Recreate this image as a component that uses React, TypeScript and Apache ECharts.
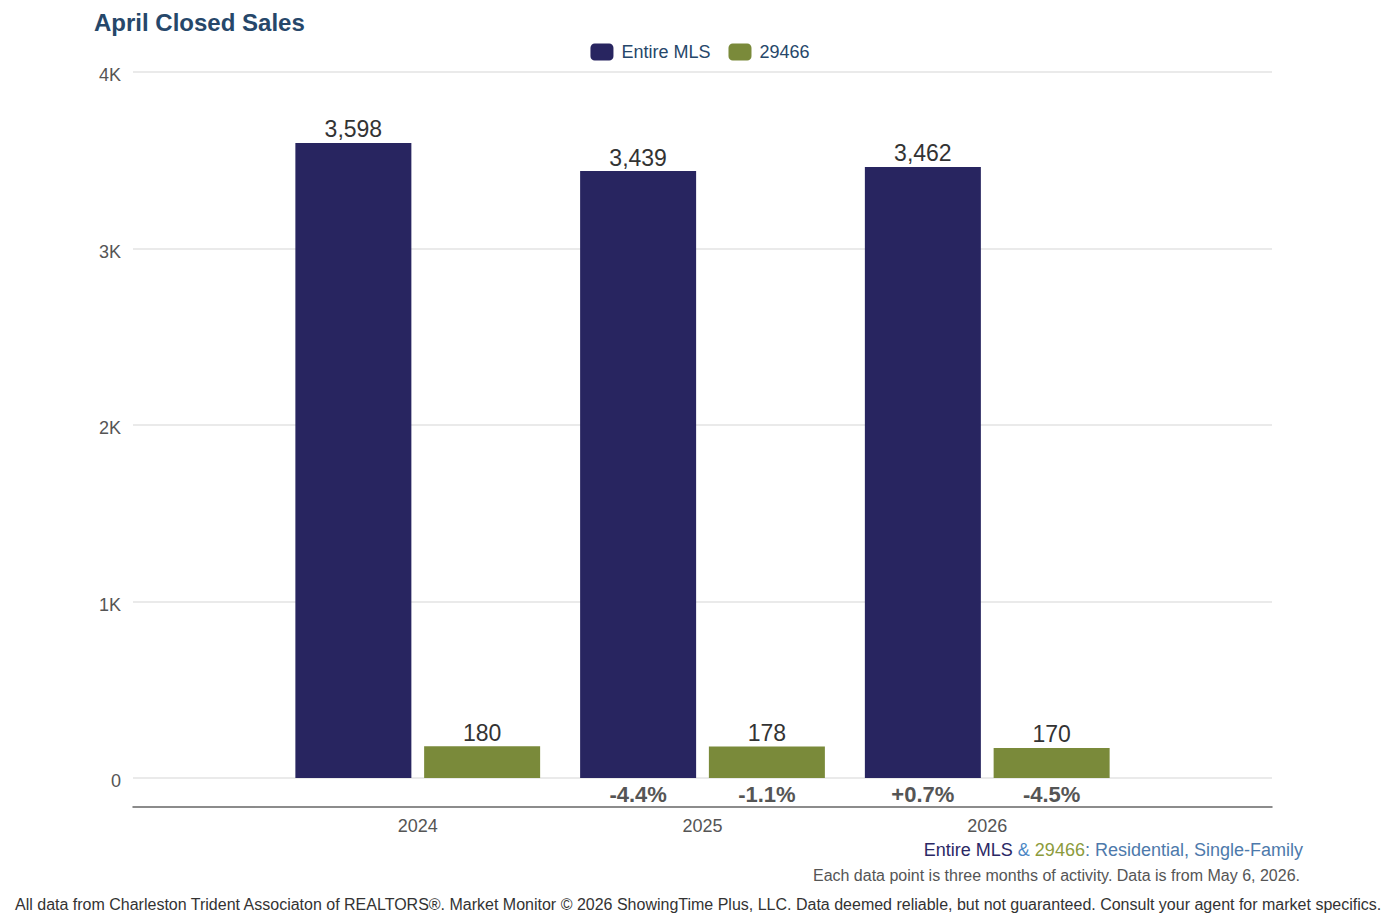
import React, { useEffect, useRef } from "react";
import * as echarts from "echarts";

// Closed sales for April, three-month rolling counts
const years = ["2024", "2025", "2026"];
const entireMls = [3598, 3439, 3462];
const zip29466 = [180, 178, 170];
const yTicks = ["0", "1K", "2K", "3K", "4K"];

const NAVY = "#282560";
const OLIVE = "#7a8a3a";
const FONT = "'Liberation Sans', Arial, Helvetica, sans-serif";

// Year-over-year change, blank for the first year
function pctChanges(values: number[]): string[] {
  return values.map((v, i) => {
    if (i === 0) return "";
    const p = (v / values[i - 1] - 1) * 100;
    const s = p.toFixed(1);
    return (p >= 0 ? "+" : "") + s + "%";
  });
}

export default function App() {
  const ref = useRef<HTMLDivElement>(null);

  useEffect(() => {
    if (!ref.current) return;
    const chart = echarts.init(ref.current, undefined, { renderer: "svg" });

    // padded category axis so each year sits one slot in from the edges
    const cats = ["", ...years, ""];
    const pad = (arr: (number | string)[]) => [null, ...arr, null];
    const mlsPct = pctChanges(entireMls);
    const zipPct = pctChanges(zip29466);

    const pctLabel = (labels: string[]) => ({
      show: true,
      position: "bottom",
      distance: 5,
      fontFamily: FONT,
      fontSize: 22,
      fontWeight: "bold",
      color: "#555",
      formatter: (p: any) => labels[p.dataIndex - 1] ?? "",
    });

    const valueLabel = {
      show: true,
      position: "top",
      distance: 2,
      fontFamily: FONT,
      fontSize: 23,
      color: "#333",
      formatter: (p: any) => Number(p.value).toLocaleString("en-US"),
    };

    chart.setOption({
      animation: false,
      backgroundColor: "#fff",
      title: {
        text: "April Closed Sales",
        left: 89,
        top: 5,
        textStyle: { fontFamily: FONT, fontSize: 24, fontWeight: "bold", color: "#26476a" },
      },
      legend: {
        data: ["Entire MLS", "29466"],
        left: "center",
        top: 38,
        icon: "roundRect",
        itemWidth: 23,
        itemHeight: 17,
        itemGap: 18,
        textStyle: { fontFamily: FONT, fontSize: 18, color: "#26476a", padding: [0, 0, 0, 3] },
      },
      grid: { left: 133, right: 128, top: 72, bottom: 143 },
      xAxis: {
        type: "category",
        data: cats,
        boundaryGap: false,
        offset: 29,
        axisLine: { show: true, onZero: false, lineStyle: { color: "#666", width: 1.5 } },
        axisTick: { show: false },
        axisLabel: { margin: 10, fontFamily: FONT, fontSize: 18, color: "#555" },
        splitLine: { show: false },
      },
      yAxis: {
        type: "value",
        min: 0,
        max: 4000,
        interval: 1000,
        axisLine: { show: false },
        axisTick: { show: false },
        axisLabel: {
          margin: 12,
          verticalAlign: "top",
          lineHeight: 6,
          fontFamily: FONT,
          fontSize: 18,
          color: "#555",
          formatter: (v: number) => yTicks[Math.round(v / 1000)],
        },
        splitLine: { lineStyle: { color: "#e3e3e3", width: 1.5 } },
      },
      series: [
        {
          name: "mlsPct",
          type: "bar",
          stack: "mls",
          data: pad(entireMls.map(() => 0)),
          barWidth: 116,
          barGap: "11%",
          itemStyle: { color: "transparent" },
          label: pctLabel(mlsPct),
          silent: true,
        },
        {
          name: "Entire MLS",
          type: "bar",
          stack: "mls",
          data: pad(entireMls),
          barWidth: 116,
          barGap: "11%",
          itemStyle: { color: NAVY },
          label: valueLabel,
        },
        {
          name: "zipPct",
          type: "bar",
          stack: "zip",
          data: pad(zip29466.map(() => 0)),
          barWidth: 116,
          barGap: "11%",
          itemStyle: { color: "transparent" },
          label: pctLabel(zipPct),
          silent: true,
        },
        {
          name: "29466",
          type: "bar",
          stack: "zip",
          data: pad(zip29466),
          barWidth: 116,
          barGap: "11%",
          itemStyle: { color: OLIVE },
          label: valueLabel,
        },
      ],
      graphic: [
        {
          type: "text",
          right: 97,
          top: 841,
          style: {
            text: "{a|Entire MLS }{b|& }{c|29466}{d|: Residential, Single-Family}",
            rich: {
              a: { fontFamily: FONT, fontSize: 18, fill: "#2b2865" },
              b: { fontFamily: FONT, fontSize: 18, fill: "#4b86c4" },
              c: { fontFamily: FONT, fontSize: 18, fill: "#8c9b3c" },
              d: { fontFamily: FONT, fontSize: 18, fill: "#4d79ab" },
            },
          },
        },
        {
          type: "text",
          right: 100,
          top: 867,
          style: {
            text: "Each data point is three months of activity. Data is from May 6, 2026.",
            fontFamily: FONT,
            fontSize: 16,
            fill: "#555",
          },
        },
        {
          type: "text",
          left: 15,
          top: 896,
          style: {
            text:
              "All data from Charleston Trident Associaton of REALTORS®. Market Monitor © 2026 ShowingTime Plus, LLC. Data deemed reliable, but not guaranteed. Consult your agent for market specifics.",
            fontFamily: FONT,
            fontSize: 16,
            fill: "#333",
          },
        },
      ],
    });

    return () => chart.dispose();
  }, []);

  return (
    <div
      ref={ref}
      style={{ position: "absolute", left: 0, top: 0, width: 1400, height: 921 }}
    />
  );
}
